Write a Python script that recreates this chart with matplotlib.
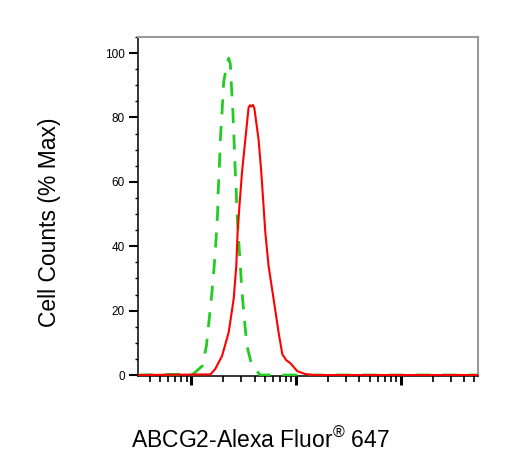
import matplotlib
matplotlib.use("Agg")
import matplotlib.pyplot as plt
from matplotlib.ticker import MultipleLocator, LogLocator, NullFormatter

plt.rcParams['font.family'] = ['Liberation Sans', 'DejaVu Sans']
plt.rcParams['mathtext.fontset'] = 'custom'
plt.rcParams['mathtext.rm'] = 'Liberation Sans'

# isotype control (green dashed)
ctrl_x = [3.1, 10.4, 12.7, 13.9, 14.8, 15.7, 16.5, 17.2, 17.8, 18.0, 18.5, 18.9, 19.6,
          20.3, 21.5, 22.7, 23.5, 24.0, 24.9, 25.5, 26.1, 26.8, 27.2, 28.2, 29.3,
          30.4, 32.0, 33.9, 37.8, 45.4, 5400]
ctrl_y = [0, 0.3, 2.8, 9.0, 17.4, 25.7, 33.8, 42.2, 50.5, 56.7, 64.8, 73.2, 81.6,
          90.9, 95.5, 98.4, 96.7, 90.9, 81.6, 73.2, 64.8, 56.7, 50.5, 42.2, 33.8,
          25.7, 17.4, 9.0, 2.8, 0, 0]

# ABCG2 stained (red)
abcg2_x = [3.1, 15.2, 16.9, 19.6, 22.7, 25.3, 26.8, 27.6, 28.8, 30.4, 32.7, 35.1,
           36.2, 37.3, 38.5, 39.8, 43.7, 46.4, 48.8, 50.7, 54.5, 60.8, 67.8, 73.6,
           80.3, 87.7, 102.3, 121.9, 145.2, 5400]
abcg2_y = [0, 0.2, 1.9, 5.9, 13.3, 23.6, 33.8, 44.3, 53.0, 63.0, 73.2, 83.0,
           83.8, 83.4, 83.9, 83.0, 73.2, 63.0, 52.4, 44.3, 33.8, 23.6, 13.3, 6.5,
           4.6, 3.7, 1.2, 0.3, 0, 0]

y_ticks = [0, 20, 40, 60, 80, 100]

fig = plt.figure(figsize=(5.23, 4.68), dpi=100)
ax = fig.add_axes([0.2639, 0.1966, 0.650, 0.7243])

ax.plot(ctrl_x, ctrl_y, color='#22cc22', lw=2, dashes=[5.4, 4.2], zorder=3)
ax.plot(abcg2_x, abcg2_y, color='#ff0000', lw=1.5, zorder=4)

ax.set_xscale('log')
ax.set_xlim(3.1, 5400)
ax.set_ylim(-0.3, 105)

ax.xaxis.set_major_locator(LogLocator(base=10))
ax.xaxis.set_minor_locator(LogLocator(base=10, subs=range(2, 10)))
ax.xaxis.set_major_formatter(NullFormatter())
ax.xaxis.set_minor_formatter(NullFormatter())
ax.set_yticks(y_ticks)
ax.yaxis.set_minor_locator(MultipleLocator(5))

ax.tick_params(axis='y', which='major', length=6.5, width=1.5, pad=3, labelsize=8.5)
ax.tick_params(axis='y', which='minor', length=2.5, width=1)
ax.tick_params(axis='x', which='major', length=6.5, width=2.2)
ax.tick_params(axis='x', which='minor', length=4, width=1.2)

ax.spines['left'].set_color('black')
ax.spines['bottom'].set_color('black')
ax.spines['left'].set_linewidth(1.1)
ax.spines['bottom'].set_linewidth(1.1)
for s in ['top', 'right']:
    ax.spines[s].set_color('#999999')
    ax.spines[s].set_linewidth(1.5)

fig.text(0.094, 0.525, 'Cell Counts (% Max)', rotation=90, fontsize=16.5,
         ha='center', va='center')
fig.text(0.250, 0.058, 'ABCG2-Alexa Fluor$^{®}$ 647', fontsize=16.5,
         ha='left', va='center')

fig.savefig('out.png', dpi=100)
